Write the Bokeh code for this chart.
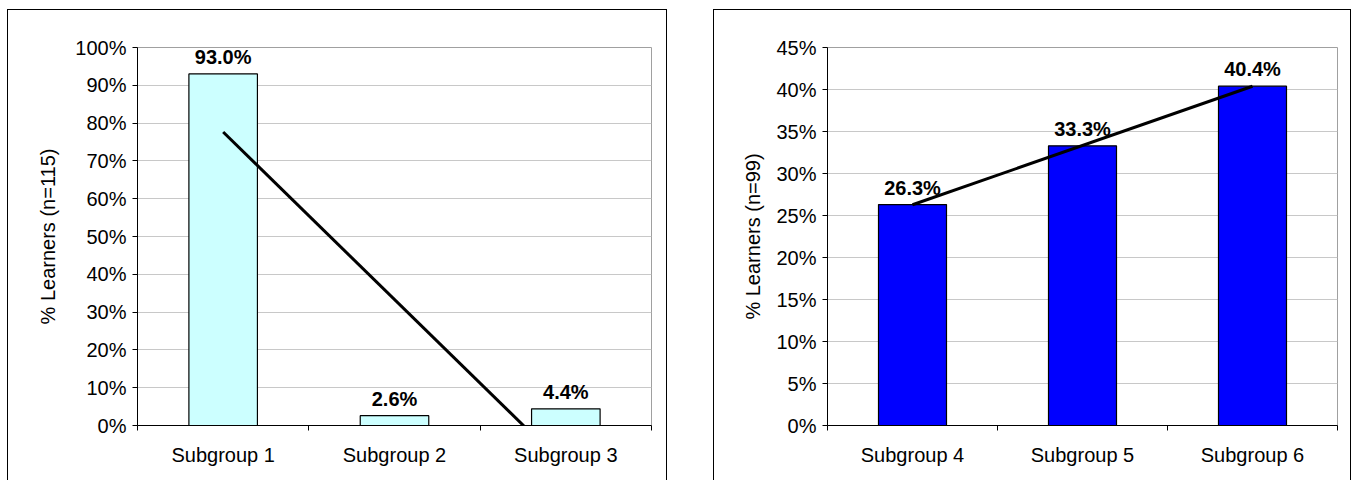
from bokeh.plotting import figure
from bokeh.models import FixedTicker, PrintfTickFormatter, Range1d, Spacer
from bokeh.layouts import row, column
from bokeh.core.properties import value
from bokeh.embed import file_html
from bokeh.resources import INLINE
import numpy as np

# ---- data ----
left_cats = ["Subgroup 1", "Subgroup 2", "Subgroup 3"]
left_vals = [93.0, 2.6, 4.4]
left_ylabel = "% Learners (n=115)"
left_yticks = [0, 10, 20, 30, 40, 50, 60, 70, 80, 90, 100]

right_cats = ["Subgroup 4", "Subgroup 5", "Subgroup 6"]
right_vals = [26.3, 33.3, 40.4]
right_ylabel = "% Learners (n=99)"
right_yticks = [0, 5, 10, 15, 20, 25, 30, 35, 40, 45]

FONT = "Liberation Sans"
FS = "20px"


def make_chart(cats, vals, ylabel, yticks, fill, width, bl, br, label_standoff):
    n = len(cats)
    xs = list(range(1, n + 1))
    p = figure(width=width, height=471, output_backend="svg", toolbar_location=None,
               x_range=Range1d(0.5, n + 0.5), y_range=Range1d(yticks[0], yticks[-1]),
               min_border_left=bl, min_border_right=br, min_border_top=37,
               min_border_bottom=56)
    p.background_fill_color = "white"
    p.border_fill_color = "white"
    p.outline_line_color = "#a0a0a0"
    p.outline_line_width = 1

    p.vbar(x=xs, top=vals, width=0.4, bottom=0, fill_color=fill, line_color="black",
           line_width=1.2)
    p.text(x=xs, y=vals, text=[f"{v:.1f}%" for v in vals], text_align="center",
           text_baseline="bottom", y_offset=-6, text_font=value(FONT),
           text_font_style="bold", text_font_size=FS, text_color="black")
    coef = np.polyfit(xs, vals, 1)
    ends = [1, n]
    p.line(x=ends, y=list(np.polyval(coef, ends)), line_color="black", line_width=3)

    xa = p.xaxis[0]
    xa.ticker = FixedTicker(ticks=xs, minor_ticks=[i + 0.5 for i in range(0, n + 1)])
    xa.major_label_overrides = {i + 1: c for i, c in enumerate(cats)}
    xa.major_tick_line_color = None
    xa.minor_tick_line_color = "black"
    xa.minor_tick_out = 5
    xa.minor_tick_in = 0
    xa.axis_line_color = "black"
    xa.major_label_standoff = 12
    xa.major_label_text_font = FONT
    xa.major_label_text_font_size = FS
    xa.major_label_text_color = "black"

    ya = p.yaxis[0]
    ya.ticker = FixedTicker(ticks=yticks, minor_ticks=[])
    ya.formatter = PrintfTickFormatter(format="%d%%")
    ya.major_tick_out = 5
    ya.major_tick_in = 0
    ya.major_tick_line_color = "black"
    ya.minor_tick_line_color = None
    ya.axis_line_color = "black"
    ya.major_label_standoff = 6
    ya.major_label_text_font = FONT
    ya.major_label_text_font_size = FS
    ya.major_label_text_color = "black"
    ya.axis_label = ylabel
    ya.axis_label_text_font = FONT
    ya.axis_label_text_font_size = FS
    ya.axis_label_text_font_style = "normal"
    ya.axis_label_text_color = "black"
    ya.axis_label_standoff = label_standoff

    p.xgrid.visible = False
    p.ygrid.ticker = FixedTicker(ticks=yticks)
    p.ygrid.grid_line_color = "#c8c8c8"
    p.ygrid.grid_line_width = 1

    p.styles = {"border-left": "1px solid black", "border-top": "1px solid black",
                "border-right": "1px solid black", "box-sizing": "border-box"}
    return p


p1 = make_chart(left_cats, left_vals, left_ylabel, left_yticks, "#CCFFFF", 660, 129, 17, 13)
p2 = make_chart(right_cats, right_vals, right_ylabel, right_yticks, "#0000FF", 638, 113, 15, 9)

layout = column(Spacer(height=9), row(Spacer(width=7), p1, Spacer(width=46), p2))

open("out.html", "w").write(file_html(layout, INLINE))
